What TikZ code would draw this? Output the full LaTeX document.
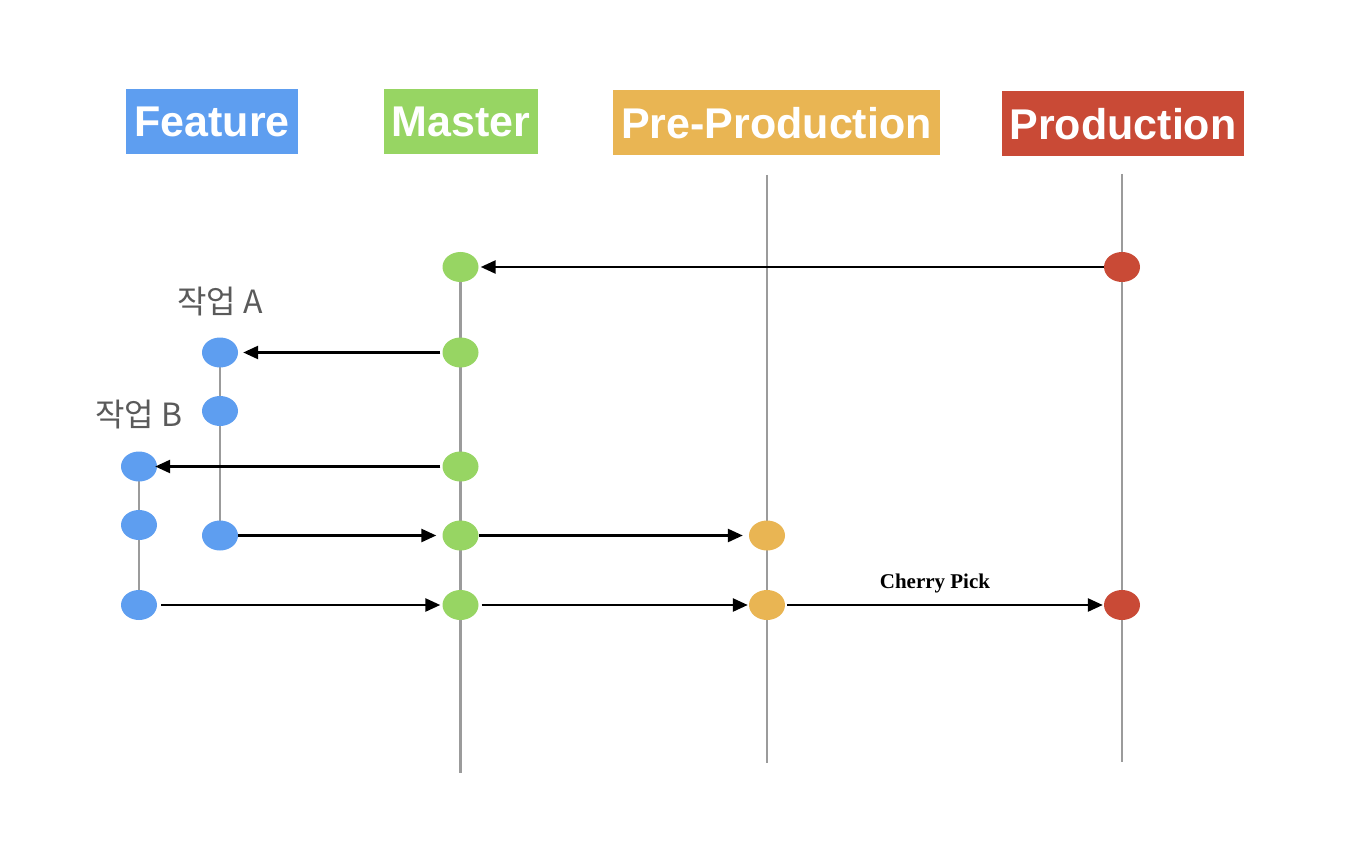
\documentclass[tikz,border=0pt]{standalone}
\usepackage{fontspec}
\setmainfont{Liberation Serif}
\newfontfamily\headfont{Liberation Sans}
\newfontfamily\krfont{Noto Sans CJK KR}
\usetikzlibrary{arrows.meta,shapes.geometric}
\definecolor{cblue}{RGB}{94,158,240}
\definecolor{cgreen}{RGB}{151,213,99}
\definecolor{corange}{RGB}{233,181,83}
\definecolor{cred}{RGB}{201,74,54}
\definecolor{cline}{RGB}{155,155,155}
\definecolor{ctext}{RGB}{90,90,90}
\tikzset{
  head/.style={inner xsep=8pt, minimum height=65pt, text height=31pt, text depth=0pt, text=white,
    font=\headfont\bfseries\fontsize{43}{43}\selectfont},
  dot/.style={ellipse, minimum width=36pt, minimum height=30pt, inner sep=0pt, fill=#1},
  branch/.style={draw=cline, line width=2.7pt},
  arr/.style={draw=black, line width=2.6pt, -{Triangle[length=15pt,width=13pt]}},
  worklabel/.style={text=ctext, font=\krfont\fontsize{32}{32}\selectfont},
}
\begin{document}
\begin{tikzpicture}[x=1pt,y=-1pt]
\useasboundingbox (0,0) rectangle (1364,858);
% headers
\node[head, fill=cblue] (hf) at (212,121.5) {Feature};
\node[head, fill=cgreen] (hm) at (461,121.5) {Master};
\node[head, fill=corange] (hp) at (776.5,123) {Pre-Production};
\node[head, fill=cred] (hr) at (1123,124) {Production};
% line end coordinates
\coordinate (mbot) at (460.5,773);
\coordinate (ptop) at (767,175);
\coordinate (pbot) at (767,763);
\coordinate (rtop) at (1122,174);
\coordinate (rbot) at (1122,762);
% dots positions
\path
  (460.5,267) coordinate (cm1)
  (460.5,352.5) coordinate (cm2)
  (460.5,466.5) coordinate (cm3)
  (460.5,535.5) coordinate (cm4)
  (460.5,605) coordinate (cm5)
  (1122,267) coordinate (cr1)
  (1122,605) coordinate (cr2)
  (767,535.5) coordinate (cp1)
  (767,605) coordinate (cp2)
  (220,352.5) coordinate (ca1)
  (220,411) coordinate (ca2)
  (220,535.5) coordinate (ca3)
  (139,466.5) coordinate (cb1)
  (139,525) coordinate (cb2)
  (139,605) coordinate (cb3);
% branch lines
\draw[branch] (cm1) -- (mbot);
\draw[branch] (ptop) -- (pbot);
\draw[branch] (rtop) -- (rbot);
\draw[branch] (ca1) -- (ca3);
\draw[branch] (cb1) -- (cb3);
% dots
\node[dot=cgreen] (m1) at (cm1) {};
\node[dot=cgreen] (m2) at (cm2) {};
\node[dot=cgreen] (m3) at (cm3) {};
\node[dot=cgreen] (m4) at (cm4) {};
\node[dot=cgreen] (m5) at (cm5) {};
\node[dot=cred] (r1) at (cr1) {};
\node[dot=cred] (r2) at (cr2) {};
\node[dot=corange] (p1) at (cp1) {};
\node[dot=corange] (p2) at (cp2) {};
\node[dot=cblue] (a1) at (ca1) {};
\node[dot=cblue] (a2) at (ca2) {};
\node[dot=cblue] (a3) at (ca3) {};
\node[dot=cblue] (b1) at (cb1) {};
\node[dot=cblue] (b2) at (cb2) {};
\node[dot=cblue] (b3) at (cb3) {};
% labels
\node[worklabel] (la) at (220,302) {작업 A};
\node[worklabel] (lb) at (139,415) {작업 B};
% arrows
\draw[arr, shorten >=2pt] (r1.west) -- (m1.east);
\draw[arr, shorten >=5pt, shorten <=2pt] (m2.west) -- (a1.east);
\draw[arr, shorten >=-2pt, shorten <=2pt] (m3.west) -- (b1.east);
\draw[arr, shorten >=6pt, shorten <=0pt] (a3.east) -- (m4.west);
\draw[arr, shorten >=2pt, shorten <=4pt] (b3.east) -- (m5.west);
\draw[arr, shorten >=6pt] (m4.east) -- (p1.west);
\draw[arr, shorten >=1pt, shorten <=3pt] (m5.east) -- (p2.west);
\draw[arr, shorten >=1pt, shorten <=2pt] (p2.east) -- (r2.west)
  node[pos=0.47, above=7pt, font=\bfseries\fontsize{21}{21}\selectfont] (cp) {Cherry Pick};
\end{tikzpicture}
\end{document}
